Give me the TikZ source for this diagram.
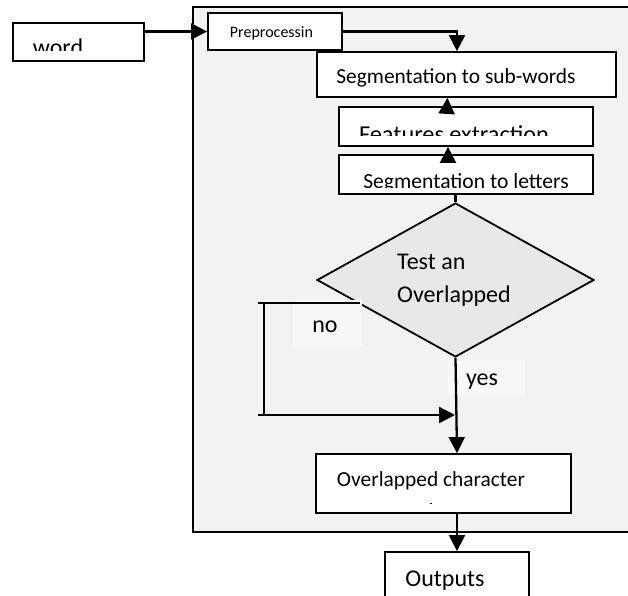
\documentclass[tikz,border=0pt]{standalone}
\usepackage{fontspec}
\setmainfont{Carlito}
\usetikzlibrary{arrows.meta,shapes.geometric}
\tikzset{
  box/.style={draw, fill=white, line width=1.8pt, inner sep=0pt, rectangle},
  arr/.style={line width=2.3pt, -{Triangle[length=16pt,width=16pt]}},
  ln/.style={line width=2.3pt},
  txt/.style={inner sep=0pt, anchor=base, font=\fontsize{21.4}{25}\selectfont},
  big/.style={font=\fontsize{24}{28}\selectfont},
  lbl/.style={fill=black!3, inner sep=0pt, draw=none},
}
\begin{document}
\begin{tikzpicture}[x=1pt,y=-1pt]
\clip (0,0) rectangle (628,595);
\fill[white] (0,0) rectangle (628,595);
% panel
\draw[fill=black!5, line width=1.2pt] (193,7) rectangle (660,532);
% boxes
\node[box, minimum width=131pt, minimum height=38pt] (word) at (78.5,42) {};
\node[box, minimum width=134pt, minimum height=37pt] (prep) at (275,31.5) {};
\node[box, minimum width=299pt, minimum height=45pt] (sub) at (466.5,74.5) {};
\node[box, minimum width=254pt, minimum height=39pt] (feat) at (466,126.5) {};
\node[box, minimum width=254pt, minimum height=39pt] (lett) at (466,174.5) {};
\node[draw, diamond, fill=black!9, line width=1.8pt, inner sep=0pt, minimum width=277pt, minimum height=154pt] (dia) at (455.5,280) {};
\node[box, minimum width=255pt, minimum height=59pt] (ovl) at (443.5,483.5) {};
\node[box, minimum width=144pt, minimum height=68pt] (out) at (457,586) {};
% texts
\begin{scope}
  \clip (15,25) rectangle (142,50.5);
  \node[txt, big] (tword) at (58,55) {word};
\end{scope}
\node[txt, font=\fontsize{16}{19}\selectfont] (tprep) at (271.5,37.5) {Preprocessin};
\node[txt] (tsub) at (456,83.5) {Segmentation to sub-words};
\begin{scope}
  \clip (341,109) rectangle (591,135);
  \node[txt, font=\fontsize{24.3}{28}\selectfont] (tfeat) at (454,142.5) {Features extraction};
\end{scope}
\begin{scope}
  \clip (341,157) rectangle (591,187.5);
  \node[txt, font=\fontsize{21.6}{25}\selectfont] (tlett) at (466,188) {Segmentation to letters};
\end{scope}
\node[txt, big, anchor=base west] (tdia1) at (397,269) {Test an};
\node[txt, big, anchor=base west] (tdia2) at (397,302) {Overlapped};
\node[txt] (tovl) at (431,486.5) {Overlapped character};
\fill (430,503) rectangle (432,504);
\node[txt, big] (tout) at (445,586) {Outputs};
% labels
\node[lbl, minimum width=69pt, minimum height=47pt] (nobg) at (327.5,323.5) {};
\node[txt, big] (tno) at (325,332) {no};
\node[lbl, minimum width=77pt, minimum height=35pt] (yesbg) at (486.5,377.5) {};
\node[txt, big] (tyes) at (482,385) {yes};
% connectors
\draw[arr] (word.east |- prep.west) -- (prep.west);
\draw[arr] (prep.east) -| ([xshift=-9.5pt]sub.north);
\draw[arr] ([xshift=-19pt]feat.north) -- ([xshift=-19pt]sub.south);
\draw[arr] ([xshift=-18pt]lett.north) -- ([xshift=-18pt]feat.south);
\draw[ln] (lett.south -| dia.north) -- (dia.north);
\coordinate (n0) at (360,303);
\coordinate (n1) at (258,303);
\coordinate (n2) at (264,303);
\coordinate (n3) at (264,415);
\coordinate (n4) at (258,415);
\coordinate (n5) at (455,415);
\draw[ln] (n0) -- (n1);
\draw[ln] (n2) -- (n3);
\draw[arr] (n4) -- (n5);
\draw[arr] (dia.south) -- (ovl.north -| out.north);
\draw[arr] (ovl.south -| out.north) -- (out.north);
\end{tikzpicture}
\end{document}
